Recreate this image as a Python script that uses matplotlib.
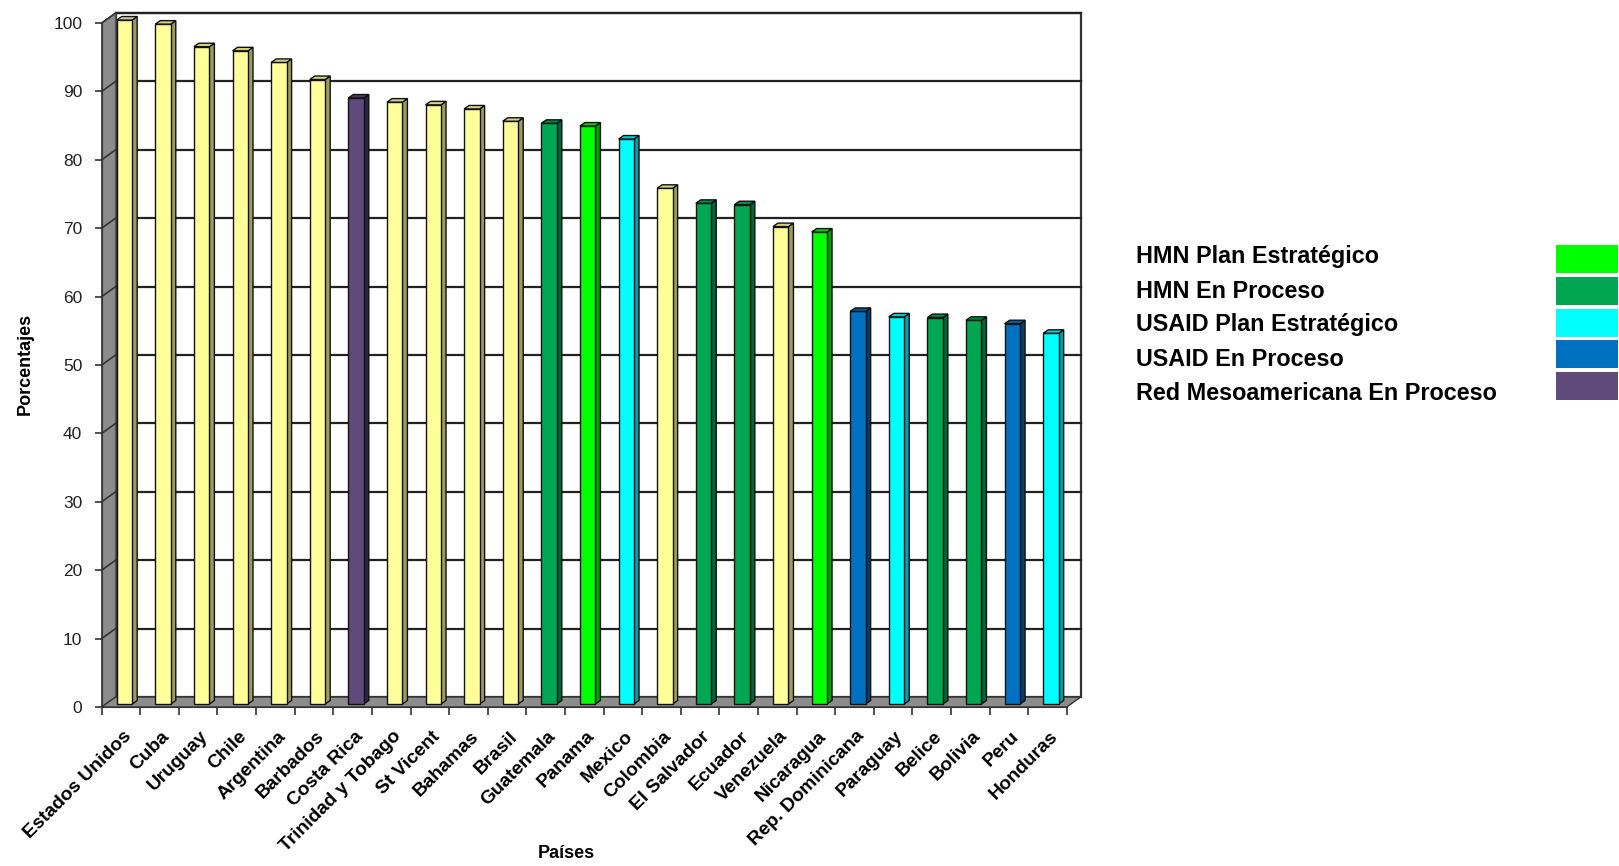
import matplotlib
matplotlib.use("Agg")
import matplotlib.pyplot as plt
from matplotlib.patches import Polygon, Rectangle
from matplotlib.lines import Line2D
import matplotlib.colors as mcolors

# ---- data -------------------------------------------------------------
countries = ["Estados Unidos", "Cuba", "Uruguay", "Chile", "Argentina", "Barbados",
             "Costa Rica", "Trinidad y Tobago", "St Vicent", "Bahamas", "Brasil",
             "Guatemala", "Panama", "Mexico", "Colombia", "El Salvador", "Ecuador",
             "Venezuela", "Nicaragua", "Rep. Dominicana", "Paraguay", "Belice",
             "Bolivia", "Peru", "Honduras"]
values = [100.0, 99.4, 96.1, 95.5, 93.8, 91.3, 88.6, 88.0, 87.6, 87.0, 85.2,
          84.9, 84.5, 82.6, 75.4, 73.2, 73.0, 69.8, 69.0, 57.4, 56.6, 56.5,
          56.1, 55.6, 54.2]
groups = ["otro", "otro", "otro", "otro", "otro", "otro",
          "Red Mesoamericana En Proceso", "otro", "otro", "otro", "otro",
          "HMN En Proceso", "HMN Plan Estratégico", "USAID Plan Estratégico", "otro",
          "HMN En Proceso", "HMN En Proceso", "otro", "HMN Plan Estratégico",
          "USAID En Proceso", "USAID Plan Estratégico", "HMN En Proceso",
          "HMN En Proceso", "USAID En Proceso", "USAID Plan Estratégico"]
legend_labels = ["HMN Plan Estratégico", "HMN En Proceso", "USAID Plan Estratégico",
                 "USAID En Proceso", "Red Mesoamericana En Proceso"]
y_ticks = list(range(0, 101, 10))

# ---- styling -----------------------------------------------------------
group_colors = {
    "otro": "#FFFF99",
    "HMN Plan Estratégico": "#00FF00",
    "HMN En Proceso": "#00A651",
    "USAID Plan Estratégico": "#00FFFF",
    "USAID En Proceso": "#0070C0",
    "Red Mesoamericana En Proceso": "#604A7B",
}
side_colors = {
    "otro": "#9C9C62",
    "HMN Plan Estratégico": "#00A000",
    "HMN En Proceso": "#006633",
    "USAID Plan Estratégico": "#00A0A8",
    "USAID En Proceso": "#003F6E",
    "Red Mesoamericana En Proceso": "#2C2440",
}

def mix(c1, c2, t):
    a = mcolors.to_rgb(c1); b = mcolors.to_rgb(c2)
    return tuple(a[k] * (1 - t) + b[k] * t for k in range(3))

FONT = "Liberation Sans"
WALL = "#8C8C8C"

# depth of the box (back wall offset) and of the bars, in data units
DX, DY = 0.36, 1.46
BX, BY = 0.09, 0.44
W = 0.40
BDX, BDY = 0.13, 0.51

fig = plt.figure(figsize=(16.19, 8.66), dpi=100)
ax = fig.add_axes([0.0628, 0.1836, 0.5961, 0.7898])
n = len(countries)
x0, x1 = -0.5, n - 0.5
ax.set_xlim(x0, x1)
ax.set_ylim(0, 100)
ax.patch.set_visible(False)
for s in ["top", "right"]:
    ax.spines[s].set_visible(False)
ax.spines["left"].set_color("#333333")
ax.spines["bottom"].set_color("#333333")
ax.spines["left"].set_zorder(6)
ax.spines["bottom"].set_zorder(6)

# back wall
ax.add_patch(Rectangle((x0 + DX, DY), x1 - x0, 100, facecolor="white",
                       edgecolor="#333333", lw=1.6, zorder=0, clip_on=False))
# side wall
ax.add_patch(Polygon([(x0, 0), (x0 + DX, DY), (x0 + DX, 100 + DY), (x0, 100)],
                     closed=True, facecolor=WALL, edgecolor="#555555", lw=1.0,
                     zorder=1, clip_on=False))
# floor
ax.add_patch(Polygon([(x0, 0), (x1, 0), (x1 + DX, DY), (x0 + DX, DY)],
                     closed=True, facecolor=WALL, edgecolor="#333333", lw=1.0,
                     zorder=1, clip_on=False))
# gridlines on the back wall and side wall
for v in y_ticks[1:]:
    ax.add_line(Line2D([x0 + DX, x1 + DX], [v + DY, v + DY], color="#222222",
                       lw=1.6, zorder=0.5, clip_on=False))
    ax.add_line(Line2D([x0, x0 + DX], [v, v + DY], color="#333333",
                       lw=1.2, zorder=2, clip_on=False))

# bars: front face via ax.bar, side and top faces derived from the same values
xs = [i + BX for i in range(n)]
fronts = [group_colors[g] for g in groups]
ax.bar(xs, values, width=W, bottom=BY, color=fronts, edgecolor="#111111",
       linewidth=1.0, zorder=4, clip_on=False)
for i, (v, g) in enumerate(zip(values, groups)):
    left = xs[i] - W / 2
    right = xs[i] + W / 2
    top = v + BY
    side = [(right, BY), (right + BDX, BY + BDY), (right + BDX, top + BDY), (right, top)]
    ax.add_patch(Polygon(side, closed=True, facecolor=side_colors[g],
                         edgecolor="#111111", lw=1.0, zorder=3, clip_on=False))
    cap = [(left, top), (right, top), (right + BDX, top + BDY), (left + BDX, top + BDY)]
    ax.add_patch(Polygon(cap, closed=True,
                         facecolor=mix(group_colors[g], side_colors[g], 0.45),
                         edgecolor="#111111", lw=1.0, zorder=5, clip_on=False))

# axes ticks
ax.set_yticks(y_ticks)
ax.set_yticklabels([str(t) for t in y_ticks], fontsize=12.5, fontfamily=FONT,
                   color="#222222")
ax.tick_params(axis="y", length=5, width=1.2, pad=9, color="#333333")

ax.set_xticks([i - 0.5 for i in range(n + 1)])
ax.set_xticklabels([])
ax.tick_params(axis="x", which="major", length=6, width=1.2, color="#333333")
ax.set_xticks([i + 0.04 for i in range(n)], minor=True)
ax.set_xticklabels(countries, minor=True, rotation=45, ha="right", va="top",
                   rotation_mode="anchor", fontsize=13.8, fontweight="bold",
                   fontfamily=FONT)
ax.tick_params(axis="x", which="minor", length=0, pad=15)

fig.text(25 / 1619, 1 - 364 / 866, "Porcentajes", rotation=90, ha="center",
         va="center", fontsize=13, fontweight="bold", fontfamily=FONT)
fig.text(566 / 1619, 1 - 853 / 866, "Países", ha="center", va="center",
         fontsize=13, fontweight="bold", fontfamily=FONT)

# legend block
for k, lab in enumerate(legend_labels):
    fig.text(1136 / 1619, 1 - (257 + 34 * k) / 866, lab, ha="left", va="center",
             fontsize=16.8, fontweight="bold", fontfamily=FONT)
    top_px = 245 + 31.8 * k
    fig.patches.append(Rectangle((1556 / 1619, 1 - (top_px + 28) / 866),
                                 62 / 1619, 28 / 866, transform=fig.transFigure,
                                 facecolor=group_colors[lab], edgecolor="none"))

fig.savefig("out.png", dpi=100, facecolor="white")
